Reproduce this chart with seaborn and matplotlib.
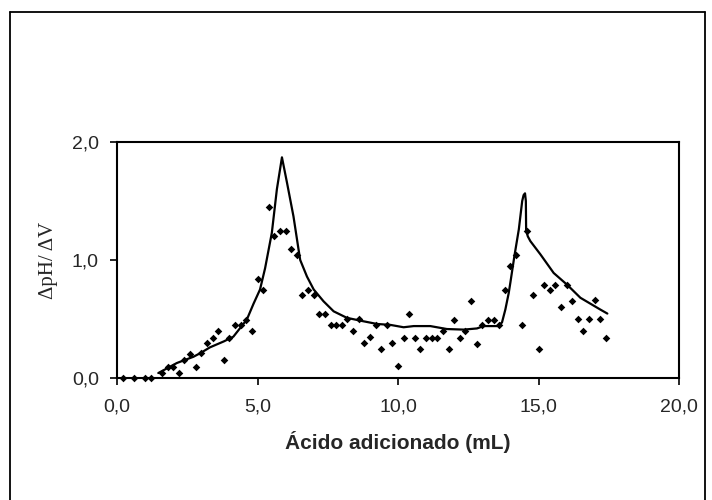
import seaborn as sns
import pandas as pd
import matplotlib.pyplot as plt
from matplotlib.lines import Line2D

# Measured points: dpH/dV against volume of acid added
vol = [0.2, 0.6, 1.0, 1.2, 1.6, 1.8, 2.0, 2.2, 2.4, 2.6, 2.8, 3.0, 3.2, 3.4, 3.6, 3.8,
       4.0, 4.2, 4.4, 4.6, 4.8, 5.0, 5.2, 5.4, 5.6, 5.8, 6.0, 6.2, 6.4, 6.6, 6.8, 7.0,
       7.2, 7.4, 7.6, 7.8, 8.0, 8.2, 8.4, 8.6, 8.8, 9.0, 9.2, 9.4, 9.6, 9.8, 10.0, 10.2,
       10.4, 10.6, 10.8, 11.0, 11.2, 11.4, 11.6, 11.8, 12.0, 12.2, 12.4, 12.6, 12.8, 13.0,
       13.2, 13.4, 13.6, 13.8, 14.0, 14.2, 14.4, 14.6, 14.8, 15.0, 15.2, 15.4, 15.6, 15.8,
       16.0, 16.2, 16.4, 16.6, 16.8, 17.0, 17.2, 17.4]
dpdv = [0.0, 0.0, 0.0, 0.0, 0.04, 0.093, 0.093, 0.04, 0.155, 0.2, 0.093, 0.21, 0.30, 0.34, 0.40, 0.155,
        0.34, 0.445, 0.445, 0.495, 0.40, 0.84, 0.75, 1.45, 1.20, 1.25, 1.25, 1.095, 1.04, 0.70, 0.75, 0.70,
        0.545, 0.545, 0.45, 0.45, 0.45, 0.50, 0.40, 0.50, 0.30, 0.345, 0.45, 0.25, 0.45, 0.30, 0.10, 0.335,
        0.545, 0.34, 0.25, 0.34, 0.34, 0.34, 0.40, 0.25, 0.495, 0.335, 0.40, 0.655, 0.29, 0.45,
        0.495, 0.495, 0.45, 0.745, 0.95, 1.045, 0.45, 1.245, 0.70, 0.25, 0.79, 0.745, 0.79, 0.60,
        0.79, 0.65, 0.50, 0.40, 0.50, 0.66, 0.50, 0.34]

# Fitted (smoothed) curve
fit_vol = [1.47, 2.13, 2.72, 2.96, 3.31, 3.8, 4.14, 4.62, 4.86, 5.09, 5.27, 5.51, 5.69,
           5.81, 5.87, 6.05, 6.28, 6.46, 6.52, 6.76, 7.0, 7.35, 7.71, 8.18, 8.66, 9.25, 9.73,
           10.2, 10.56, 11.15, 11.74, 12.34, 12.81, 13.05, 13.53, 13.7, 13.82, 13.94, 14.0,
           14.14, 14.3, 14.42, 14.47, 14.52, 14.55, 14.56, 14.62, 14.71, 15.07, 15.54, 16.02,
           16.49, 17.2, 17.45]
fit_dpdv = [0.042, 0.127, 0.18, 0.21, 0.26, 0.31, 0.35, 0.495, 0.63, 0.75, 0.93, 1.23, 1.60,
            1.78, 1.87, 1.655, 1.37, 1.09, 1.0, 0.86, 0.75, 0.65, 0.565, 0.51, 0.486, 0.458, 0.45,
            0.43, 0.44, 0.44, 0.415, 0.41, 0.42, 0.44, 0.44, 0.47, 0.58, 0.72, 0.81,
            1.03, 1.26, 1.50, 1.55, 1.565, 1.50, 1.25, 1.20, 1.16, 1.047, 0.89, 0.79,
            0.68, 0.58, 0.546]

xticks = [0, 5, 10, 15, 20]
xtick_labels = ["0,0", "5,0", "10,0", "15,0", "20,0"]
yticks = [0, 1, 2]
ytick_labels = ["0,0", "1,0", "2,0"]

points = pd.DataFrame({"vol": vol, "dpdv": dpdv})
curve = pd.DataFrame({"vol": fit_vol, "dpdv": fit_dpdv})

sns.set_style("white")
plt.rcParams['font.family'] = ['Liberation Sans', 'DejaVu Sans']

fig = plt.figure(figsize=(7.12, 5), dpi=100)
ax = fig.add_axes([117 / 712, 122 / 500, 562 / 712, 236 / 500])

sns.lineplot(data=curve, x="vol", y="dpdv", sort=False, estimator=None,
             color="black", linewidth=1.6, ax=ax)
sns.scatterplot(data=points, x="vol", y="dpdv", marker="D", s=15,
                color="black", edgecolor="black", linewidth=0, ax=ax, clip_on=False, zorder=3)

ax.set_xlim(0, 20)
ax.set_ylim(0, 2)
ax.set_xticks(xticks)
ax.set_xticklabels(xtick_labels)
ax.set_yticks(yticks)
ax.set_yticklabels(ytick_labels)
ax.tick_params(axis="both", direction="out", length=5, width=1.2, color="black",
               labelsize=14, left=True, bottom=True)
ax.tick_params(axis="x", pad=10)
ax.tick_params(axis="y", pad=8)

for side in ["left", "bottom", "right", "top"]:
    ax.spines[side].set_color("black")
    ax.spines[side].set_linewidth(1.5)

ax.set_xlabel("Ácido adicionado (mL)", fontsize=15, fontweight="bold", labelpad=11)
ax.set_ylabel("ΔpH/ ΔV", fontsize=15, family=["Liberation Serif", "DejaVu Serif"], labelpad=10)

# outer frame (open at the bottom)
frame = dict(color="black", linewidth=1.3, transform=fig.transFigure)
fig.add_artist(Line2D([10 / 712, 10 / 712], [0, 1 - 12 / 500], **frame))
fig.add_artist(Line2D([10 / 712, 705 / 712], [1 - 12 / 500, 1 - 12 / 500], **frame))
fig.add_artist(Line2D([705 / 712, 705 / 712], [0, 1 - 12 / 500], **frame))

fig.savefig("out.png", dpi=100)
